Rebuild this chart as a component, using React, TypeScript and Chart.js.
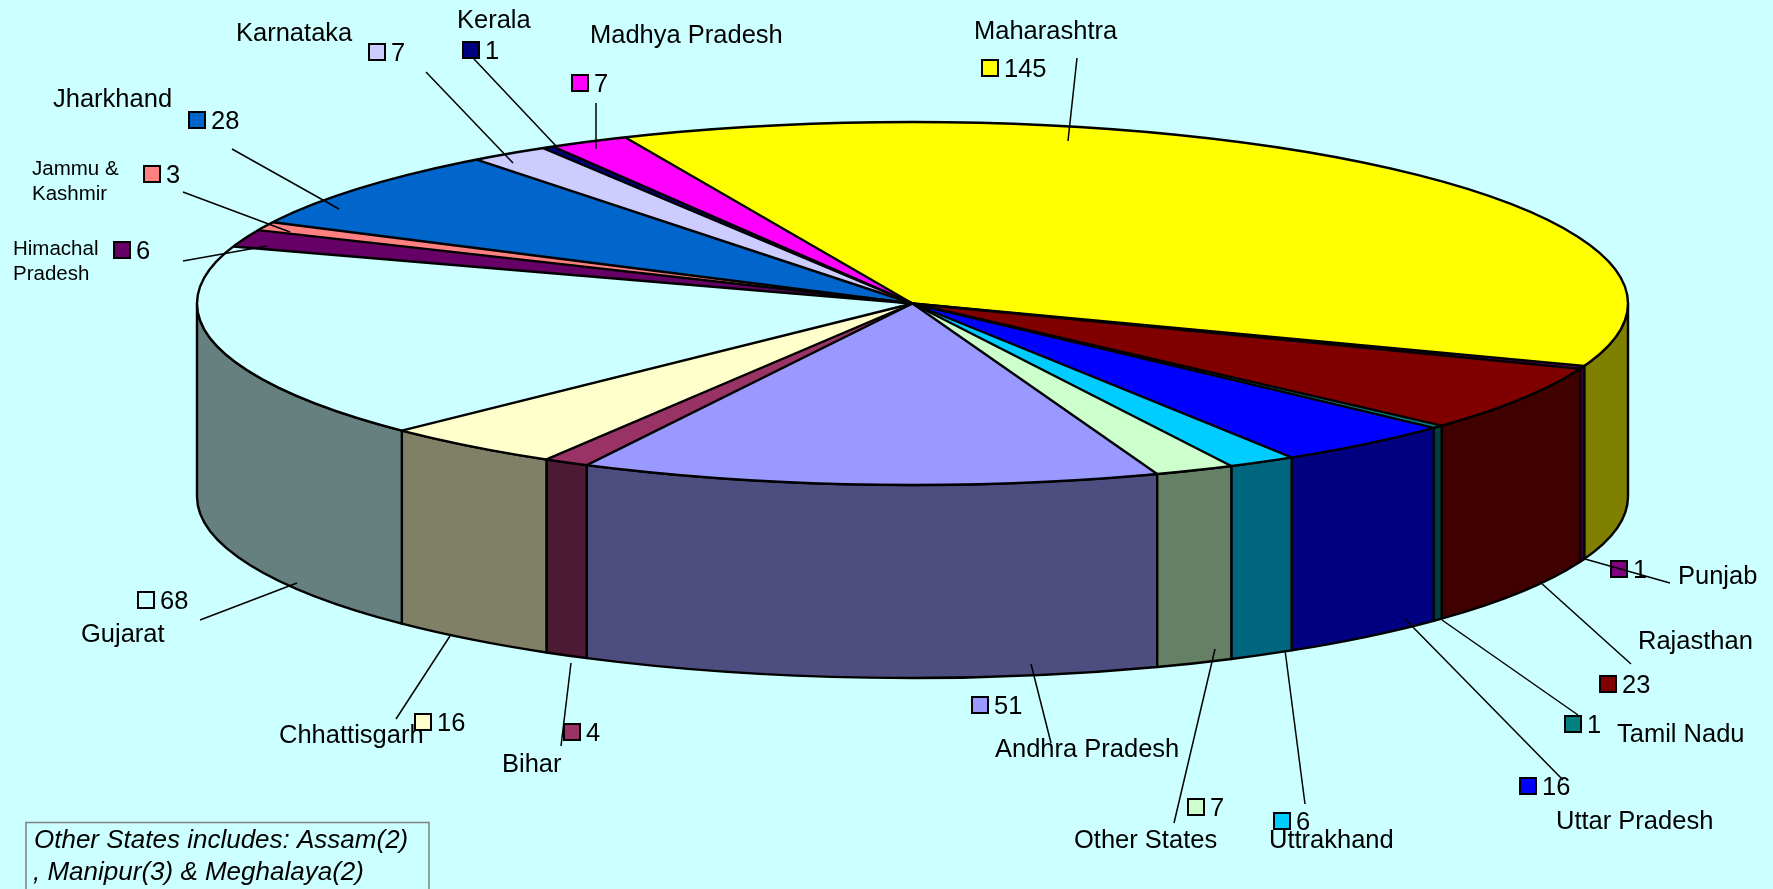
import React, { useEffect, useRef } from 'react';
import { Chart, registerables } from 'chart.js';

Chart.register(...registerables);

// ---------------- data ----------------
const STATES: string[] = [
  'Andhra Pradesh', 'Bihar', 'Chhattisgarh', 'Gujarat', 'Himachal Pradesh',
  'Jammu & Kashmir', 'Jharkhand', 'Karnataka', 'Kerala', 'Madhya Pradesh',
  'Maharashtra', 'Punjab', 'Rajasthan', 'Tamil Nadu', 'Uttar Pradesh',
  'Uttrakhand', 'Other States',
];
const VALUES: number[] = [51, 4, 16, 68, 6, 3, 28, 7, 1, 7, 145, 1, 23, 1, 16, 6, 7];
const COLORS: string[] = [
  '#9999FF', '#993366', '#FFFFCC', '#CCFFFF', '#660066',
  '#FF8080', '#0066CC', '#CCCCFF', '#000080', '#FF00FF',
  '#FFFF00', '#800080', '#800000', '#008080', '#0000FF',
  '#00CCFF', '#CCFFCC',
];
// how the state names are broken on lines in the labels
const NAME_LINES: string[][] = [
  ['Andhra Pradesh'], ['Bihar'], ['Chhattisgarh'], ['Gujarat'], ['Himachal', 'Pradesh'],
  ['Jammu &', 'Kashmir'], ['Jharkhand'], ['Karnataka'], ['Kerala'], ['Madhya Pradesh'],
  ['Maharashtra'], ['Punjab'], ['Rajasthan'], ['Tamil Nadu'], ['Uttar Pradesh'],
  ['Uttrakhand'], ['Other States'],
];
const NOTE_LINES: string[] = ['Other States includes: Assam(2)', ', Manipur(3) & Meghalaya(2)'];

// ---------------- layout (label placement, not data) ----------------
type LabelPos = { name: [number, number]; key: [number, number]; leader: [number, number, number, number]; small?: boolean };
const LABEL_LAYOUT: LabelPos[] = [
  { name: [995, 757], key: [972, 697], leader: [1031, 664, 1051, 743] },
  { name: [502, 772], key: [564, 724], leader: [571, 663, 561, 746] },
  { name: [279, 743], key: [415, 714], leader: [450, 636, 396, 719] },
  { name: [81, 642], key: [138, 592], leader: [297, 583, 200, 620] },
  { name: [13, 255], key: [114, 242], leader: [267, 246, 183, 261], small: true },
  { name: [32, 175], key: [144, 166], leader: [290, 232, 183, 192], small: true },
  { name: [53, 107], key: [189, 112], leader: [339, 209, 232, 149] },
  { name: [236, 41], key: [369, 44], leader: [513, 163, 426, 72] },
  { name: [457, 28], key: [463, 42], leader: [557, 147, 474, 59] },
  { name: [590, 43], key: [572, 75], leader: [596, 149, 596, 103] },
  { name: [974, 39], key: [982, 60], leader: [1068, 141, 1077, 58] },
  { name: [1678, 584], key: [1611, 561], leader: [1585, 559, 1670, 583] },
  { name: [1638, 649], key: [1600, 676], leader: [1540, 582, 1631, 664] },
  { name: [1617, 742], key: [1565, 716], leader: [1442, 620, 1578, 715] },
  { name: [1556, 829], key: [1520, 778], leader: [1405, 619, 1563, 780] },
  { name: [1269, 848], key: [1274, 813], leader: [1285, 650, 1305, 804] },
  { name: [1074, 848], key: [1188, 799], leader: [1215, 649, 1174, 823] },
];

const W = 1773;
const H = 889;
const BG = '#CCFFFF';
const CX = 912.5;
const CY = 303.5;
const RX = 715.5;
const RY = 181.5;
const DEPTH = 193;
const EDGE = 2.4;
const FONT = '"Liberation Sans", Arial, sans-serif';

function darken(hex: string, f = 0.5): string {
  const n = parseInt(hex.slice(1), 16);
  const r = Math.round(((n >> 16) & 255) * f);
  const g = Math.round(((n >> 8) & 255) * f);
  const b = Math.round((n & 255) * f);
  return `rgb(${r},${g},${b})`;
}

function visibleSegs(s: number, e: number): [number, number][] {
  const out: [number, number][] = [];
  for (let k = -2; k <= 3; k++) {
    const lo = k * 2 * Math.PI;
    const hi = lo + Math.PI;
    const a = Math.max(s, lo);
    const b = Math.min(e, hi);
    if (b > a + 1e-7) out.push([a - lo, b - lo]);
  }
  return out;
}

const pie3dPlugin = {
  id: 'pie3d',
  beforeDatasetsDraw(chart: any) {
    const ctx: CanvasRenderingContext2D = chart.ctx;
    const meta = chart.getDatasetMeta(0);
    const colors = chart.data.datasets[0].backgroundColor as string[];
    ctx.save();
    ctx.lineWidth = EDGE;
    ctx.strokeStyle = '#000';
    ctx.lineJoin = 'round';
    meta.data.forEach((arc: any, i: number) => {
      const segs = visibleSegs(arc.startAngle, arc.endAngle);
      segs.forEach(([a, b]) => {
        ctx.beginPath();
        ctx.ellipse(CX, CY, RX, RY, 0, a, b, false);
        ctx.lineTo(CX + RX * Math.cos(b), CY + DEPTH + RY * Math.sin(b));
        ctx.ellipse(CX, CY + DEPTH, RX, RY, 0, b, a, true);
        ctx.closePath();
        ctx.fillStyle = darken(colors[i]);
        ctx.fill();
        ctx.stroke();
      });
    });
    ctx.restore();
    // map the library's circular pie onto the tilted ellipse
    const first = meta.data[0];
    const r = first.outerRadius;
    ctx.save();
    ctx.translate(CX, CY);
    ctx.scale(RX / r, RY / r);
    ctx.translate(-first.x, -first.y);
  },
  afterDatasetsDraw(chart: any) {
    const ctx: CanvasRenderingContext2D = chart.ctx;
    ctx.restore();
    const meta = chart.getDatasetMeta(0);
    ctx.save();
    ctx.lineWidth = EDGE;
    ctx.strokeStyle = '#000';
    ctx.beginPath();
    ctx.ellipse(CX, CY, RX, RY, 0, 0, Math.PI * 2);
    ctx.stroke();
    meta.data.forEach((arc: any) => {
      ctx.beginPath();
      ctx.moveTo(CX, CY);
      ctx.lineTo(CX + RX * Math.cos(arc.startAngle), CY + RY * Math.sin(arc.startAngle));
      ctx.stroke();
    });
    ctx.restore();
  },
  afterDraw(chart: any) {
    const ctx: CanvasRenderingContext2D = chart.ctx;
    const ds = chart.data.datasets[0];
    ctx.save();
    ctx.fillStyle = '#000';
    ctx.textBaseline = 'alphabetic';
    ctx.textAlign = 'left';
    // names
    LABEL_LAYOUT.forEach((lp, i) => {
      ctx.font = lp.small ? `20.5px ${FONT}` : `25.5px ${FONT}`;
      const lh = lp.small ? 25 : 30;
      NAME_LINES[i].forEach((t, j) => ctx.fillText(t, lp.name[0], lp.name[1] + j * lh));
    });
    // keys and values
    ctx.font = `25.5px ${FONT}`;
    LABEL_LAYOUT.forEach((lp, i) => {
      const [kx, ky] = lp.key;
      ctx.fillStyle = ds.backgroundColor[i];
      ctx.fillRect(kx, ky, 16, 16);
      ctx.lineWidth = 2;
      ctx.strokeStyle = '#000';
      ctx.strokeRect(kx, ky, 16, 16);
      ctx.fillStyle = '#000';
      ctx.fillText(String(ds.data[i]), kx + 22, ky + 17);
    });
    // leader lines
    ctx.lineWidth = 1.5;
    ctx.strokeStyle = '#000';
    LABEL_LAYOUT.forEach((lp) => {
      const [x1, y1, x2, y2] = lp.leader;
      ctx.beginPath();
      ctx.moveTo(x1, y1);
      ctx.lineTo(x2, y2);
      ctx.stroke();
    });
    // note box
    ctx.strokeStyle = '#808080';
    ctx.lineWidth = 1.5;
    ctx.strokeRect(26, 822.5, 403, 80);
    ctx.font = `italic 26px ${FONT}`;
    ctx.fillStyle = '#000';
    ctx.fillText(NOTE_LINES[0], 34, 848);
    ctx.fillText(NOTE_LINES[1], 33, 880);
    ctx.restore();
  },
};

export default function App() {
  const ref = useRef<HTMLCanvasElement>(null);
  useEffect(() => {
    const chart = new Chart(ref.current as HTMLCanvasElement, {
      type: 'pie',
      data: {
        labels: STATES,
        datasets: [
          {
            data: VALUES,
            backgroundColor: COLORS,
            borderWidth: 0,
            clip: false as any,
          } as any,
        ],
      },
      options: {
        responsive: false,
        maintainAspectRatio: false,
        animation: false,
        devicePixelRatio: 1,
        rotation: 160,
        events: [],
        layout: { padding: 20 },
        plugins: {
          legend: { display: false },
          tooltip: { enabled: false },
          title: { display: false },
        },
      },
      plugins: [pie3dPlugin as any],
    });
    return () => chart.destroy();
  }, []);
  return (
    <div style={{ position: 'fixed', left: 0, top: 0, width: W, height: H, background: BG, overflow: 'hidden' }}>
      <canvas ref={ref} width={W} height={H} style={{ display: 'block', width: W, height: H }} />
    </div>
  );
}
